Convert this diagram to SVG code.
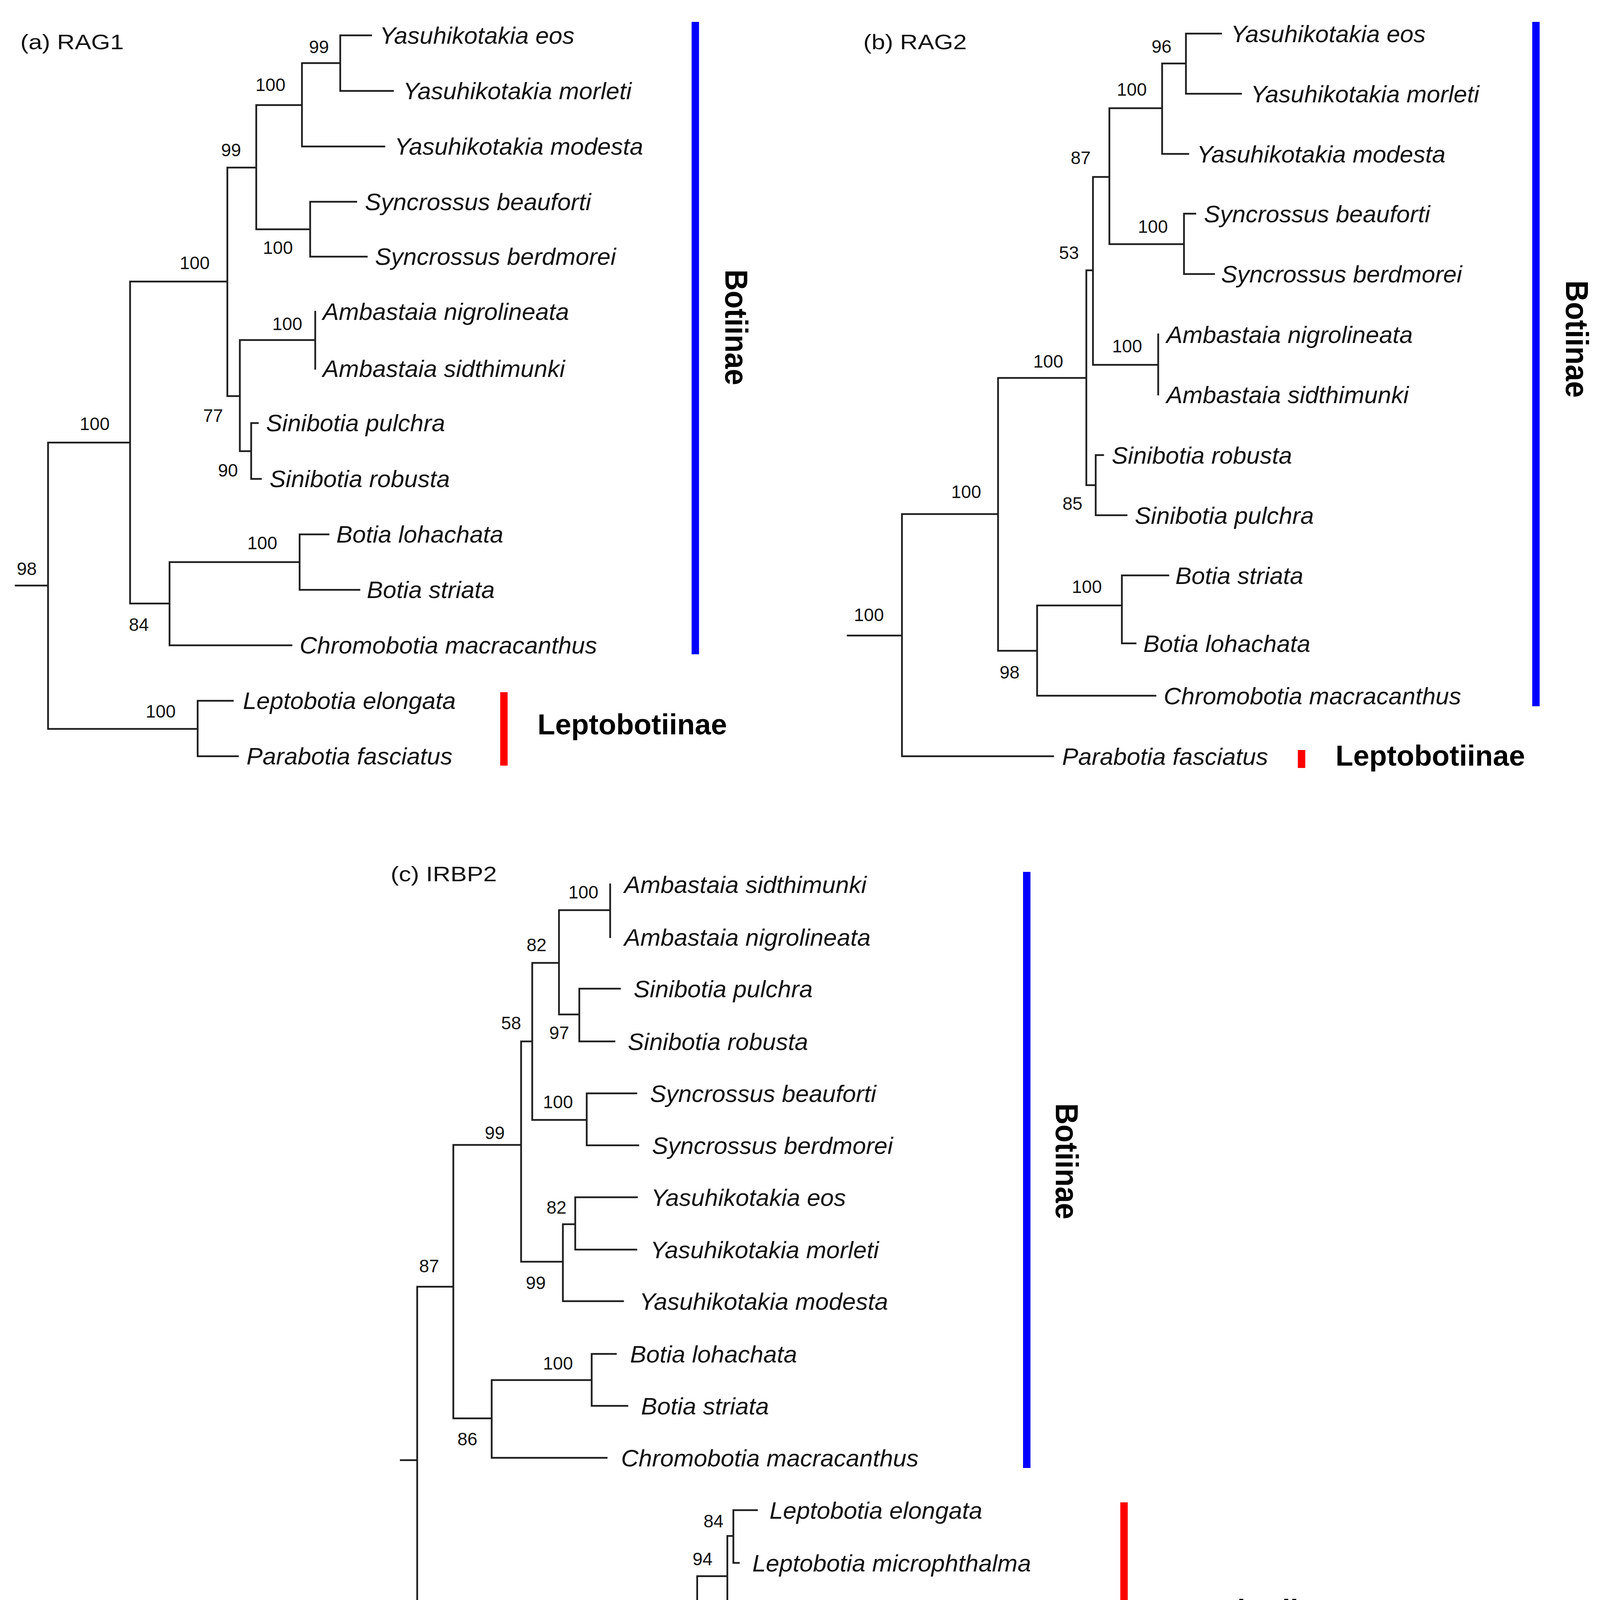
<svg xmlns="http://www.w3.org/2000/svg" width="4104" height="4473" viewBox="0 0 4104 4473">
<style>
.br{fill:none;stroke:#1e1e1e;stroke-width:4.5;stroke-linecap:square}
.sp{font-family:"Liberation Sans",Arial,sans-serif;font-style:italic;font-size:62px;fill:#111}
.bs{font-family:"Liberation Sans",Arial,sans-serif;font-size:46px;fill:#111}
.ti{font-family:"Liberation Sans",Arial,sans-serif;font-size:54px;fill:#111}
.cl{font-family:"Liberation Sans",Arial,sans-serif;font-weight:bold;fill:#000}
.blue{fill:#0000ff}
.red{fill:#ff0000}
</style>
<rect width="4104" height="4473" fill="#fff"/>

<g id="connectors">
<path id="tree-a" class="br" d="M40,1499H123 M123,1133V1866 M123,1133H333 M333,720.7V1545 M333,720.7H582 M582,429V1014 M582,429H656 M656,269V587 M656,269H773 M773,161.4V375 M773,161.4H871 M871,90.6V232.8 M871,90.6H950 M871,232.8H1006 M773,375H984 M656,587H794 M794,516.6V657 M794,516.6H912 M794,657H939 M582,1014H614 M614,870.5V1155 M614,870.5H807 M807,798V944 M614,1155H643 M643,1083V1226 M643,1083H660 M643,1226H668 M333,1545H434 M434,1439V1652 M434,1439H767 M767,1368V1510 M767,1368H841 M767,1510H920 M434,1652H746 M123,1866H506 M506,1794V1936 M506,1794H596 M506,1936H609"/>
<path id="tree-b" class="br" d="M2170,1627H2309 M2309,1316V1936 M2309,1316H2555 M2309,1936H2696 M2555,967.5V1666 M2555,967.5H2781 M2781,692V1242 M2781,692H2798 M2798,453V934 M2798,453H2840 M2840,277V625 M2840,277H2975 M2975,162.6V394 M2975,162.6H3036 M3036,86V240 M3036,86H3126 M3036,240H3177 M2975,394H3042 M2840,625H3031 M3031,547V701.5 M3031,547H3060 M3031,701.5H3108 M2798,934H2965 M2965,856V1010 M2781,1242H2805 M2805,1165V1319 M2805,1165H2824 M2805,1319H2884 M2555,1666H2655 M2655,1550V1781 M2655,1550H2872 M2872,1473V1647 M2872,1473H2991 M2872,1647H2907 M2655,1781H2958"/>
<path id="tree-c" class="br" d="M1026,3738H1068 M1068,3294V4185 M1068,3294H1160.5 M1160.5,2931V3631 M1160.5,2931H1334 M1334,2666V3230 M1334,2666H1362.5 M1362.5,2465V2867 M1362.5,2465H1431 M1431,2330V2597 M1431,2330H1562 M1562,2264V2399 M1431,2597H1483 M1483,2531V2666 M1483,2531H1587 M1483,2666H1573 M1362.5,2867H1502 M1502,2799V2932 M1502,2799H1629 M1502,2932H1634 M1334,3230H1441 M1441,3134V3331 M1441,3134H1472.6 M1472.6,3065V3199 M1472.6,3065H1630.5 M1472.6,3199H1629 M1441,3331H1595 M1160.5,3631H1258.7 M1258.7,3533V3732 M1258.7,3533H1514.7 M1514.7,3466V3599 M1514.7,3466H1576.5 M1514.7,3599H1606 M1258.7,3732H1553 M1068,4185H1784.8 M1784.8,4035V4336 M1784.8,4035H1862 M1862,3932V4134 M1862,3932H1877.4 M1877.4,3866V4001 M1877.4,3866H1937.7 M1877.4,4001H1891.4 M1862,4134H1935.6 M1784.8,4336H1923 M1923,4269V4400 M1923,4269H2055 M1923,4400H2109"/>
</g>

<!-- Panel (a) -->
<g id="panel-a">
<g id="a-title"><text class="ti" x="52" y="126" textLength="265" lengthAdjust="spacingAndGlyphs">(a) RAG1</text></g>
<g id="a-support">
<text class="bs" x="791" y="136">99</text>
<text class="bs" x="654" y="233">100</text>
<text class="bs" x="566" y="400">99</text>
<text class="bs" x="673" y="650">100</text>
<text class="bs" x="460" y="689">100</text>
<text class="bs" x="697" y="845">100</text>
<text class="bs" x="520" y="1080">77</text>
<text class="bs" x="558" y="1220">90</text>
<text class="bs" x="204" y="1101">100</text>
<text class="bs" x="633" y="1406">100</text>
<text class="bs" x="43" y="1472">98</text>
<text class="bs" x="330" y="1615">84</text>
<text class="bs" x="373" y="1837">100</text>
</g>
<g id="a-yeos"><text class="sp" x="972" y="112">Yasuhikotakia eos</text></g>
<g id="a-ymor"><text class="sp" x="1032" y="254">Yasuhikotakia morleti</text></g>
<g id="a-ymod"><text class="sp" x="1010" y="396">Yasuhikotakia modesta</text></g>
<g id="a-sbea"><text class="sp" x="934" y="538">Syncrossus beauforti</text></g>
<g id="a-sber"><text class="sp" x="960" y="678">Syncrossus berdmorei</text></g>
<g id="a-anig"><text class="sp" x="826" y="819">Ambastaia nigrolineata</text></g>
<g id="a-asid"><text class="sp" x="826" y="965">Ambastaia sidthimunki</text></g>
<g id="a-spul"><text class="sp" x="681" y="1104">Sinibotia pulchra</text></g>
<g id="a-srob"><text class="sp" x="690" y="1247">Sinibotia robusta</text></g>
<g id="a-bloh"><text class="sp" x="861" y="1389">Botia lohachata</text></g>
<g id="a-bstr"><text class="sp" x="939" y="1531">Botia striata</text></g>
<g id="a-cmac"><text class="sp" x="767" y="1673">Chromobotia macracanthus</text></g>
<g id="a-lelo"><text class="sp" x="622" y="1815">Leptobotia elongata</text></g>
<g id="a-pfas"><text class="sp" x="631" y="1957">Parabotia fasciatus</text></g>
<g id="a-botiinae">
<rect class="blue" x="1770.5" y="56" width="19" height="1619"/>
<text class="cl" font-size="82" transform="translate(1857,838) rotate(90)" text-anchor="middle" textLength="296" lengthAdjust="spacingAndGlyphs">Botiinae</text>
</g>
<g id="a-lepto">
<rect class="red" x="1280.5" y="1772" width="19" height="188"/>
<text class="cl" font-size="74" x="1376" y="1880">Leptobotiinae</text>
</g>
</g>

<!-- Panel (b) -->
<g id="panel-b">
<g id="b-title"><text class="ti" x="2210" y="126" textLength="265" lengthAdjust="spacingAndGlyphs">(b) RAG2</text></g>
<g id="b-support">
<text class="bs" x="2948" y="135">96</text>
<text class="bs" x="2859" y="245">100</text>
<text class="bs" x="2741" y="420">87</text>
<text class="bs" x="2913" y="596">100</text>
<text class="bs" x="2711" y="663">53</text>
<text class="bs" x="2847" y="902">100</text>
<text class="bs" x="2645" y="941">100</text>
<text class="bs" x="2435" y="1275">100</text>
<text class="bs" x="2720" y="1305">85</text>
<text class="bs" x="2744" y="1518">100</text>
<text class="bs" x="2186" y="1590">100</text>
<text class="bs" x="2559" y="1737">98</text>
</g>
<g id="b-yeos"><text class="sp" x="3151" y="108">Yasuhikotakia eos</text></g>
<g id="b-ymor"><text class="sp" x="3202" y="262">Yasuhikotakia morleti</text></g>
<g id="b-ymod"><text class="sp" x="3064" y="416">Yasuhikotakia modesta</text></g>
<g id="b-sbea"><text class="sp" x="3082" y="569">Syncrossus beauforti</text></g>
<g id="b-sber"><text class="sp" x="3126" y="723">Syncrossus berdmorei</text></g>
<g id="b-anig"><text class="sp" x="2986" y="878">Ambastaia nigrolineata</text></g>
<g id="b-asid"><text class="sp" x="2986" y="1032">Ambastaia sidthimunki</text></g>
<g id="b-srob"><text class="sp" x="2846" y="1187">Sinibotia robusta</text></g>
<g id="b-spul"><text class="sp" x="2905" y="1341">Sinibotia pulchra</text></g>
<g id="b-bstr"><text class="sp" x="3009" y="1495">Botia striata</text></g>
<g id="b-bloh"><text class="sp" x="2927" y="1669">Botia lohachata</text></g>
<g id="b-cmac"><text class="sp" x="2979" y="1803">Chromobotia macracanthus</text></g>
<g id="b-pfas"><text class="sp" x="2719" y="1958">Parabotia fasciatus</text></g>
<g id="b-botiinae">
<rect class="blue" x="3922.5" y="56" width="19" height="1752"/>
<text class="cl" font-size="82" transform="translate(4009,868) rotate(90)" text-anchor="middle" textLength="300" lengthAdjust="spacingAndGlyphs">Botiinae</text>
</g>
<g id="b-lepto">
<rect class="red" x="3322.5" y="1920" width="19" height="46"/>
<text class="cl" font-size="74" x="3419" y="1960">Leptobotiinae</text>
</g>
</g>

<!-- Panel (c) -->
<g id="panel-c">
<g id="c-title"><text class="ti" x="1000" y="2256" textLength="272" lengthAdjust="spacingAndGlyphs">(c) IRBP2</text></g>
<g id="c-support">
<text class="bs" x="1455" y="2300">100</text>
<text class="bs" x="1348" y="2435">82</text>
<text class="bs" x="1283" y="2635">58</text>
<text class="bs" x="1406" y="2660">97</text>
<text class="bs" x="1390" y="2837">100</text>
<text class="bs" x="1241" y="2916">99</text>
<text class="bs" x="1399" y="3107">82</text>
<text class="bs" x="1073" y="3257">87</text>
<text class="bs" x="1346" y="3300">99</text>
<text class="bs" x="1390" y="3506">100</text>
<text class="bs" x="1171" y="3700">86</text>
<text class="bs" x="1801" y="3910">84</text>
<text class="bs" x="1773" y="4007">94</text>
<text class="bs" x="1667" y="4149">100</text>
<text class="bs" x="1834" y="4396">97</text>
</g>
<g id="c-asid"><text class="sp" x="1598" y="2286">Ambastaia sidthimunki</text></g>
<g id="c-anig"><text class="sp" x="1598" y="2421">Ambastaia nigrolineata</text></g>
<g id="c-spul"><text class="sp" x="1622" y="2553">Sinibotia pulchra</text></g>
<g id="c-srob"><text class="sp" x="1607" y="2688">Sinibotia robusta</text></g>
<g id="c-sbea"><text class="sp" x="1664" y="2821">Syncrossus beauforti</text></g>
<g id="c-sber"><text class="sp" x="1669" y="2954">Syncrossus berdmorei</text></g>
<g id="c-yeos"><text class="sp" x="1667" y="3087">Yasuhikotakia eos</text></g>
<g id="c-ymor"><text class="sp" x="1665" y="3221">Yasuhikotakia morleti</text></g>
<g id="c-ymod"><text class="sp" x="1637" y="3353">Yasuhikotakia modesta</text></g>
<g id="c-bloh"><text class="sp" x="1613" y="3488">Botia lohachata</text></g>
<g id="c-bstr"><text class="sp" x="1641" y="3621">Botia striata</text></g>
<g id="c-cmac"><text class="sp" x="1590" y="3754">Chromobotia macracanthus</text></g>
<g id="c-lelo"><text class="sp" x="1970" y="3888">Leptobotia elongata</text></g>
<g id="c-lmic"><text class="sp" x="1926" y="4023">Leptobotia microphthalma</text></g>
<g id="c-lgui"><text class="sp" x="1968" y="4156">Leptobotia guilinensis</text></g>
<g id="c-plij"><text class="sp" x="2083" y="4291">Parabotia lijiangensis</text></g>
<g id="c-pfas"><text class="sp" x="2146" y="4422">Parabotia fasciatus</text></g>
<g id="c-botiinae">
<rect class="blue" x="2619" y="2232" width="19" height="1526"/>
<text class="cl" font-size="82" transform="translate(2703,2973) rotate(90)" text-anchor="middle" textLength="297" lengthAdjust="spacingAndGlyphs">Botiinae</text>
</g>
<g id="c-lepto">
<rect class="red" x="2868" y="3846" width="19" height="580"/>
<text class="cl" font-size="74" x="2966" y="4147">Leptobotiinae</text>
</g>
</g>
</svg>
